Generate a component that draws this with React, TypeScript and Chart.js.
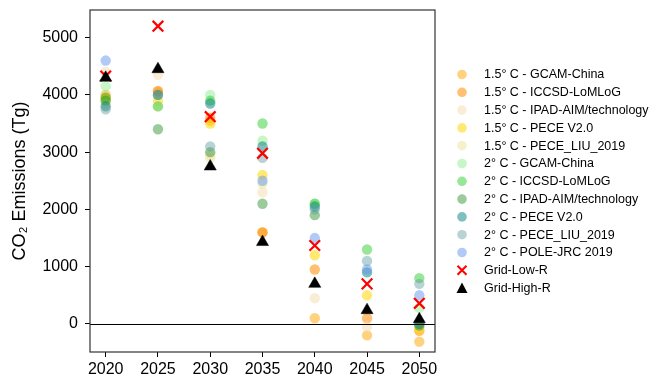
import React, { useEffect, useRef } from 'react';
import { Chart, registerables } from 'chart.js';

Chart.register(...registerables);

const FONT = "'Liberation Sans', Arial, Helvetica, sans-serif";

// Scenario years and axis ticks
const years = [2020, 2025, 2030, 2035, 2040, 2045, 2050];
const yTicks = [0, 1000, 2000, 3000, 4000, 5000];

// CO2 emissions (Tg) per scenario, one value per year (null = not reported)
const gcam15 = [4000, 4050, 3550, 1600, 100, -200, -310];
const iccsd15 = [3950, 4070, 3600, 1600, 950, 100, -120];
const ipad15 = [4400, 4350, 2950, 2300, 450, -50, -50];
const pece15 = [3900, 3900, 3500, 2600, 1200, 500, -100];
const peceLiu15 = [3850, 3800, 2900, 2450, null, null, null];
const gcam2 = [4150, null, 4000, 3200, 2100, null, 280];
const iccsd2 = [3950, 3800, 3900, 3500, 2100, 1300, 800];
const ipad2 = [3900, 3400, 3000, 2100, 1900, null, -30];
const pece2 = [3800, 4000, 3850, 3100, 2050, 900, 0];
const peceLiu2 = [3750, 4000, 3100, 2900, 2000, 1100, 700];
const poleJrc2 = [4600, null, null, 2500, 1500, 950, 500];
const gridLowR = [4330, 5200, 3620, 2980, 1370, 700, 360];
const gridHighR = [4300, 4450, 2750, 1430, 700, 240, 80];

const circleSeries = [
  { label: '1.5\u00B0 C - GCAM-China', values: gcam15, color: 'rgba(255,165,0,0.5)' },
  { label: '1.5\u00B0 C - ICCSD-LoMLoG', values: iccsd15, color: 'rgba(255,140,0,0.55)' },
  { label: '1.5\u00B0 C - IPAD-AIM/technology', values: ipad15, color: 'rgba(245,222,179,0.55)' },
  { label: '1.5\u00B0 C - PECE V2.0', values: pece15, color: 'rgba(255,215,0,0.55)' },
  { label: '1.5\u00B0 C - PECE_LIU_2019', values: peceLiu15, color: 'rgba(238,232,170,0.6)' },
  { label: '2\u00B0 C - GCAM-China', values: gcam2, color: 'rgba(144,238,144,0.5)' },
  { label: '2\u00B0 C - ICCSD-LoMLoG', values: iccsd2, color: 'rgba(50,205,50,0.5)' },
  { label: '2\u00B0 C - IPAD-AIM/technology', values: ipad2, color: 'rgba(34,139,34,0.45)' },
  { label: '2\u00B0 C - PECE V2.0', values: pece2, color: 'rgba(0,128,128,0.5)' },
  { label: '2\u00B0 C - PECE_LIU_2019', values: peceLiu2, color: 'rgba(95,158,160,0.45)' },
  { label: '2\u00B0 C - POLE-JRC 2019', values: poleJrc2, color: 'rgba(100,149,237,0.5)' },
];

const toPoints = (values: (number | null)[]) =>
  years
    .map((x, i) => ({ x, y: values[i] }))
    .filter((p) => p.y !== null) as { x: number; y: number }[];

type LegendEntry = { label: string; kind: 'circle' | 'cross' | 'triangle'; color: string };

const legendEntries: LegendEntry[] = [
  ...circleSeries.map((s) => ({ label: s.label, kind: 'circle' as const, color: s.color })),
  { label: 'Grid-Low-R', kind: 'cross', color: '#ff0000' },
  { label: 'Grid-High-R', kind: 'triangle', color: '#000000' },
];

// Zero line and the axes frame, drawn over the markers
const framePlugin = {
  id: 'frame',
  afterDatasetsDraw(chart: any) {
    const { ctx, chartArea, scales } = chart;
    const y0 = Math.round(scales.y.getPixelForValue(0)) + 0.5;
    ctx.save();
    ctx.strokeStyle = '#000';
    ctx.lineWidth = 1.2;
    ctx.beginPath();
    ctx.moveTo(chartArea.left, y0);
    ctx.lineTo(chartArea.right, y0);
    ctx.stroke();
    ctx.strokeStyle = '#333';
    ctx.lineWidth = 1.2;
    ctx.strokeRect(chartArea.left, chartArea.top, chartArea.right - chartArea.left, chartArea.bottom - chartArea.top);
    ctx.restore();
  },
};

// Legend to the right of the plot
const sideLegendPlugin = {
  id: 'sideLegend',
  afterDraw(chart: any) {
    const { ctx } = chart;
    const markerX = 462;
    const textX = 484;
    const top = 74.5;
    const step = 17.8;
    ctx.save();
    ctx.font = `12.5px ${FONT}`;
    ctx.textBaseline = 'middle';
    ctx.textAlign = 'left';
    legendEntries.forEach((e, i) => {
      const y = top + i * step;
      if (e.kind === 'circle') {
        ctx.fillStyle = e.color;
        ctx.beginPath();
        ctx.arc(markerX, y, 4.8, 0, Math.PI * 2);
        ctx.fill();
      } else if (e.kind === 'cross') {
        ctx.strokeStyle = e.color;
        ctx.lineWidth = 2;
        ctx.beginPath();
        ctx.moveTo(markerX - 4.5, y - 4.5);
        ctx.lineTo(markerX + 4.5, y + 4.5);
        ctx.moveTo(markerX + 4.5, y - 4.5);
        ctx.lineTo(markerX - 4.5, y + 4.5);
        ctx.stroke();
      } else {
        ctx.fillStyle = e.color;
        ctx.beginPath();
        ctx.moveTo(markerX, y - 5.5);
        ctx.lineTo(markerX + 5.5, y + 5);
        ctx.lineTo(markerX - 5.5, y + 5);
        ctx.closePath();
        ctx.fill();
      }
      ctx.fillStyle = '#000';
      ctx.fillText(e.label, textX, y + 0.5);
    });
    ctx.restore();
  },
};

export default function App() {
  const canvasRef = useRef<HTMLCanvasElement | null>(null);

  useEffect(() => {
    if (!canvasRef.current) return;
    const n = circleSeries.length;
    const datasets: any[] = circleSeries.map((s, i) => ({
      label: s.label,
      data: toPoints(s.values),
      backgroundColor: s.color,
      borderColor: 'rgba(0,0,0,0)',
      borderWidth: 0,
      pointRadius: 5.2,
      pointStyle: 'circle',
      order: 10 + n - i,
    }));
    datasets.push({
      label: 'Grid-Low-R',
      data: toPoints(gridLowR),
      pointStyle: 'crossRot',
      pointRadius: 7.5,
      borderColor: '#ff0000',
      backgroundColor: '#ff0000',
      borderWidth: 2.2,
      order: 2,
    });
    datasets.push({
      label: 'Grid-High-R',
      data: toPoints(gridHighR),
      pointStyle: 'triangle',
      pointRadius: 7,
      borderColor: '#000',
      backgroundColor: '#000',
      borderWidth: 0.5,
      order: 1,
    });

    const chart = new Chart(canvasRef.current, {
      type: 'scatter',
      data: { datasets },
      options: {
        responsive: false,
        animation: false,
        devicePixelRatio: 1,
        layout: { padding: { top: 10, right: 215, bottom: 0, left: 0 } },
        plugins: {
          legend: { display: false },
          tooltip: { enabled: false },
        },
        scales: {
          x: {
            type: 'linear',
            min: 2018.5,
            max: 2051.5,
            afterBuildTicks: (scale: any) => {
              scale.ticks = years.map((v) => ({ value: v }));
            },
            afterFit: (scale: any) => {
              scale.height = 29;
              scale.paddingLeft = 0;
              scale.paddingRight = 0;
            },
            grid: {
              drawOnChartArea: false,
              drawTicks: true,
              tickLength: 5,
              tickColor: '#000',
              tickWidth: 1,
            },
            border: { display: false },
            ticks: {
              padding: 3,
              color: '#000',
              maxRotation: 0,
              font: { family: FONT, size: 16 },
              callback: (v: any) => String(v),
            },
          },
          y: {
            type: 'linear',
            min: -490,
            max: 5483,
            afterBuildTicks: (scale: any) => {
              scale.ticks = yTicks.map((v) => ({ value: v }));
            },
            afterFit: (scale: any) => {
              scale.width = 90;
              scale.paddingTop = 0;
              scale.paddingBottom = 0;
            },
            grid: {
              drawOnChartArea: false,
              drawTicks: true,
              tickLength: 5,
              tickColor: '#000',
              tickWidth: 1,
            },
            border: { display: false },
            ticks: {
              padding: 7,
              color: '#000',
              font: { family: FONT, size: 16 },
              callback: (v: any) => String(v),
            },
            title: {
              display: true,
              text: 'CO\u2082 Emissions (Tg)',
              color: '#000',
              font: { family: FONT, size: 18 },
              padding: { top: 9, bottom: 0 },
            },
          },
        },
      },
      plugins: [framePlugin, sideLegendPlugin],
    });

    return () => chart.destroy();
  }, []);

  return (
    <div style={{ position: 'absolute', left: 0, top: 0, width: 650, height: 381, background: '#fff' }}>
      <canvas ref={canvasRef} width={650} height={381} />
    </div>
  );
}
